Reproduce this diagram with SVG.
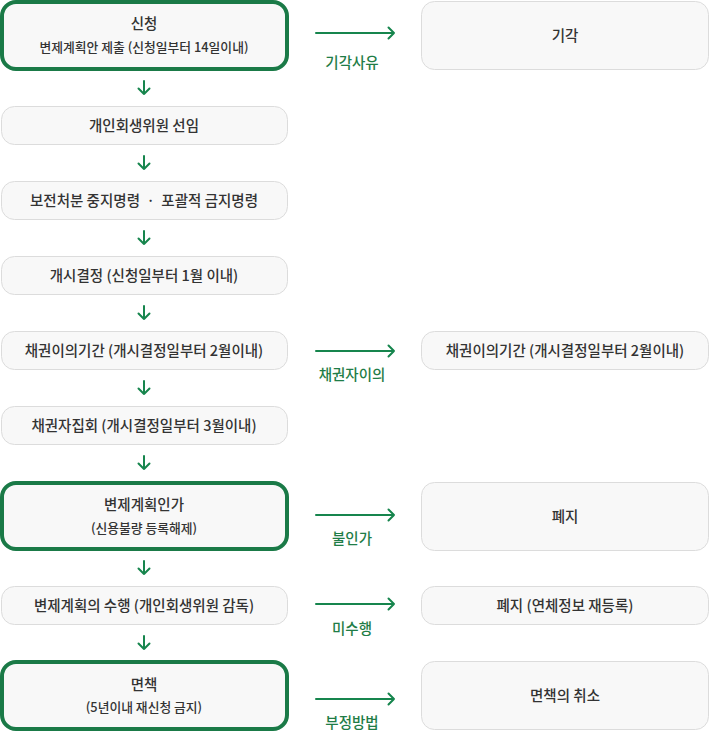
<svg xmlns="http://www.w3.org/2000/svg" width="710" height="731" viewBox="0 0 710 731">
<defs>
<style>
.box{fill:#f8f8f8;stroke:#dcdcdc;stroke-width:1}
.key{fill:#f8f8f8;stroke:#1a7a47;stroke-width:4}
.t{font-family:"Noto Sans CJK KR","Noto Sans",sans-serif;font-size:14.5px;font-weight:500;fill:#333;text-anchor:middle}
.s{font-family:"Noto Sans CJK KR","Noto Sans",sans-serif;font-size:12.8px;font-weight:500;fill:#333;text-anchor:middle}
.g{font-family:"Noto Sans CJK KR","Noto Sans",sans-serif;font-size:14.5px;font-weight:500;fill:#1f7d47;text-anchor:middle}
.c{fill:none;stroke:#16854d;stroke-width:2;stroke-linecap:round;stroke-linejoin:round}
</style>
</defs>
<rect width="710" height="731" fill="#fff"/>
<g id="n1"><rect class="key" x="2" y="2" width="285" height="67" rx="14"/><text class="t" x="144" y="29">신청</text><text class="s" x="144" y="52">변제계획안 제출 (신청일부터 14일이내)</text></g>
<g id="n2"><rect class="box" x="1.5" y="106.5" width="286" height="38" rx="13"/><text class="t" x="144" y="131">개인회생위원 선임</text></g>
<g id="n3"><rect class="box" x="1.5" y="181.5" width="286" height="38" rx="13"/><text class="t" x="144" y="206">보전처분 중지명령&#160;&#160;·&#160;&#160;포괄적 금지명령</text></g>
<g id="n4"><rect class="box" x="1.5" y="256.5" width="286" height="38" rx="13"/><text class="t" x="144" y="281">개시결정 (신청일부터 1월 이내)</text></g>
<g id="n5"><rect class="box" x="1.5" y="331.5" width="286" height="38" rx="13"/><text class="t" x="144" y="356">채권이의기간 (개시결정일부터 2월이내)</text></g>
<g id="n6"><rect class="box" x="1.5" y="406.5" width="286" height="38" rx="13"/><text class="t" x="144" y="431">채권자집회 (개시결정일부터 3월이내)</text></g>
<g id="n7"><rect class="key" x="2" y="483" width="285" height="66" rx="14"/><text class="t" x="144" y="510">변제계획인가</text><text class="s" x="144" y="533">(신용불량 등록해제)</text></g>
<g id="n8"><rect class="box" x="1.5" y="586.5" width="286" height="38" rx="13"/><text class="t" x="144" y="611">변제계획의 수행 (개인회생위원 감독)</text></g>
<g id="n9"><rect class="key" x="2" y="662" width="285" height="67" rx="14"/><text class="t" x="144" y="690">면책</text><text class="s" x="144" y="712">(5년이내 재신청 금지)</text></g>
<g id="r1"><rect class="box" x="421.5" y="1.5" width="287" height="68" rx="13"/><text class="t" x="565" y="41">기각</text></g>
<g id="r2"><rect class="box" x="421.5" y="331.5" width="287" height="38" rx="13"/><text class="t" x="565" y="356">채권이의기간 (개시결정일부터 2월이내)</text></g>
<g id="r3"><rect class="box" x="421.5" y="482.5" width="287" height="68" rx="13"/><text class="t" x="565" y="522">폐지</text></g>
<g id="r4"><rect class="box" x="421.5" y="586.5" width="287" height="38" rx="13"/><text class="t" x="565" y="611">폐지 (연체정보 재등록)</text></g>
<g id="r5"><rect class="box" x="421.5" y="661.5" width="287" height="68" rx="13"/><text class="t" x="565" y="701">면책의 취소</text></g>
<g id="connectors">
<path class="c" d="M144 81V94M138.5 88.5L144 94L149.5 88.5"/>
<path class="c" d="M144 156V169M138.5 163.5L144 169L149.5 163.5"/>
<path class="c" d="M144 231V244M138.5 238.5L144 244L149.5 238.5"/>
<path class="c" d="M144 306V319M138.5 313.5L144 319L149.5 313.5"/>
<path class="c" d="M144 381V394M138.5 388.5L144 394L149.5 388.5"/>
<path class="c" d="M144 456V469M138.5 463.5L144 469L149.5 463.5"/>
<path class="c" d="M144 561V574M138.5 568.5L144 574L149.5 568.5"/>
<path class="c" d="M144 636V649M138.5 643.5L144 649L149.5 643.5"/>
<path class="c" d="M316 33H394M388.5 27.5L394 33L388.5 38.5"/>
<path class="c" d="M316 351H394M388.5 345.5L394 351L388.5 356.5"/>
<path class="c" d="M316 515H394M388.5 509.5L394 515L388.5 520.5"/>
<path class="c" d="M316 604H394M388.5 598.5L394 604L388.5 609.5"/>
<path class="c" d="M316 699H394M388.5 693.5L394 699L388.5 704.5"/>
<text class="g" x="352" y="68">기각사유</text>
<text class="g" x="352" y="380">채권자이의</text>
<text class="g" x="352" y="544">불인가</text>
<text class="g" x="352" y="634">미수행</text>
<text class="g" x="352" y="728">부정방법</text>
</g>
</svg>
